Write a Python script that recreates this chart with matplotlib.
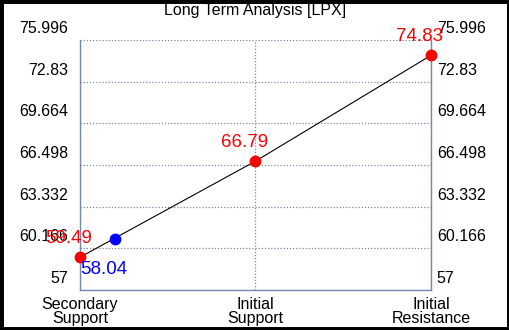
import matplotlib
matplotlib.use("Agg")
import matplotlib.pyplot as plt
import matplotlib.transforms as mtransforms
from matplotlib.patches import Rectangle

title = "Long Term Analysis [LPX]"
categories = ["Secondary\nSupport", "Initial\nSupport", "Initial\nResistance"]
level_values = [59.49, 66.79, 74.83]
level_labels = ["59.49", "66.79", "74.83"]
current_x = 0.2
current_value = 60.88
current_label = "58.04"
ytick_values = [57, 60.166, 63.332, 66.498, 69.664, 72.83, 75.996]
ytick_labels = ["57", "60.166", "63.332", "66.498", "69.664", "72.83", "75.996"]

W, H = 510, 330
fig = plt.figure(figsize=(W / 100, H / 100), dpi=100)
fig.patch.set_facecolor("white")
ax = fig.add_axes([80 / W, 40 / H, (431 - 80) / W, (290 - 40) / H])

spine_col = "#7388aa"
grid_col = "#7a8aa5"
x = list(range(len(categories)))

ax.plot(x, level_values, color="black", lw=0.8, zorder=2, clip_on=False)
ax.plot(x, level_values, "o", color="#ff0000", ms=7.5, zorder=3, clip_on=False)
ax.plot([current_x], [current_value], "o", color="#0000ff", ms=7.5, zorder=3, clip_on=False)

for xi, v, lab in zip(x, level_values, level_labels):
    ax.annotate(lab, (xi, v), xytext=(-8, 10.5), textcoords="offset points",
                ha="center", va="baseline", color="#ff0000", fontsize=13.5,
                fontfamily="Liberation Sans", zorder=4, annotation_clip=False)
ax.annotate(current_label, (current_x, current_value), xytext=(-8, -16),
            textcoords="offset points", ha="center", va="top", color="#0000ff",
            fontsize=13.5, fontfamily="Liberation Sans", zorder=4, annotation_clip=False)

ax.set_xlim(0, 2)
ax.set_ylim(57, 75.996)
ax.set_xticks(x)
ax.set_xticklabels(categories, fontsize=11.5, fontfamily="Liberation Sans", linespacing=0.9)
ax.set_yticks(ytick_values)
ax.set_yticklabels(ytick_labels, fontsize=11.5, fontfamily="Liberation Sans")
ax.tick_params(axis="y", which="both", length=0, pad=8.5, labelright=True, right=False)
ax.tick_params(axis="x", length=0, pad=5)
off_l = mtransforms.ScaledTranslation(0, 13 / 100, fig.dpi_scale_trans)
off_r = mtransforms.ScaledTranslation(-6 / 100, 13 / 100, fig.dpi_scale_trans)
for t in ax.yaxis.get_major_ticks():
    t.label1.set_transform(t.label1.get_transform() + off_l)
    t.label2.set_transform(t.label2.get_transform() + off_r)

ax.grid(True, linestyle=(0, (1, 1.5)), color=grid_col, lw=0.9)
for s in ["left", "right", "bottom"]:
    ax.spines[s].set_color(spine_col)
    ax.spines[s].set_linewidth(1.0)
ax.spines["top"].set_visible(False)

fig.text(0.5, 1 - 10 / H, title, ha="center", va="center", fontsize=11.5,
         fontfamily="Liberation Sans")

fig.patches.append(Rectangle((0, 0), 1, 1, transform=fig.transFigure, fill=False,
                             edgecolor="black", lw=5, zorder=10))
fig.savefig("out.png", dpi=100)
